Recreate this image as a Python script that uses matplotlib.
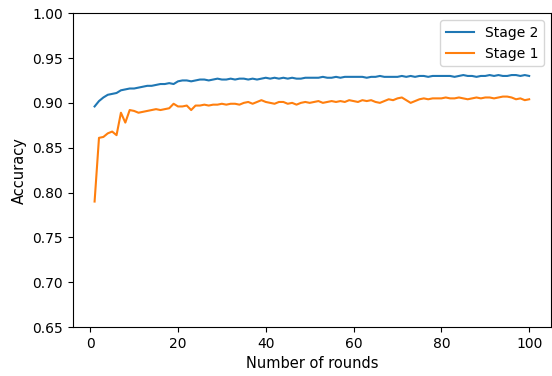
import numpy as np
import matplotlib
matplotlib.use('Agg')
import matplotlib.pyplot as plt

rounds = list(range(1, 101))

# accuracy per round, stage 2 (second pass) and stage 1
stage2 = [0.896, 0.902, 0.906, 0.909, 0.910, 0.911, 0.914, 0.915, 0.916, 0.916,
          0.917, 0.918, 0.919, 0.919, 0.920, 0.921, 0.921, 0.922, 0.921, 0.924,
          0.925, 0.925, 0.924, 0.925, 0.926, 0.926, 0.925, 0.926, 0.927, 0.926,
          0.926, 0.927, 0.926, 0.927, 0.927, 0.926, 0.927, 0.926, 0.927, 0.928,
          0.927, 0.928, 0.927, 0.928, 0.927, 0.928, 0.927, 0.927, 0.928, 0.928,
          0.928, 0.928, 0.929, 0.928, 0.928, 0.929, 0.928, 0.929, 0.929, 0.929,
          0.929, 0.929, 0.928, 0.929, 0.929, 0.930, 0.929, 0.929, 0.929, 0.929,
          0.930, 0.929, 0.930, 0.929, 0.930, 0.930, 0.929, 0.930, 0.930, 0.930,
          0.930, 0.930, 0.929, 0.930, 0.931, 0.930, 0.930, 0.929, 0.930, 0.930,
          0.931, 0.930, 0.931, 0.930, 0.930, 0.931, 0.931, 0.930, 0.931, 0.930]

stage1 = [0.790, 0.861, 0.862, 0.866, 0.868, 0.864, 0.889, 0.878, 0.892, 0.891,
          0.889, 0.890, 0.891, 0.892, 0.893, 0.892, 0.893, 0.894, 0.899, 0.896,
          0.896, 0.897, 0.892, 0.897, 0.897, 0.898, 0.897, 0.898, 0.898, 0.899,
          0.898, 0.899, 0.899, 0.898, 0.900, 0.901, 0.899, 0.901, 0.903, 0.901,
          0.900, 0.899, 0.901, 0.901, 0.899, 0.900, 0.898, 0.900, 0.901, 0.900,
          0.901, 0.902, 0.900, 0.901, 0.902, 0.901, 0.902, 0.901, 0.903, 0.902,
          0.901, 0.903, 0.902, 0.903, 0.901, 0.900, 0.902, 0.904, 0.903, 0.905,
          0.906, 0.903, 0.900, 0.902, 0.904, 0.905, 0.904, 0.905, 0.905, 0.905,
          0.906, 0.905, 0.905, 0.906, 0.905, 0.904, 0.905, 0.906, 0.905, 0.906,
          0.906, 0.905, 0.906, 0.907, 0.907, 0.906, 0.904, 0.905, 0.903, 0.904]

fig = plt.figure(figsize=(5.52, 3.76), dpi=100)
ax = fig.add_axes([0.132, 0.130, 0.866, 0.835])

ax.plot(rounds, stage2, color='tab:blue', linewidth=1.5, label='Stage 2')
ax.plot(rounds, stage1, color='tab:orange', linewidth=1.5, label='Stage 1')

ax.set_ylim(0.65, 1.00)
ax.set_yticks(np.arange(0.65, 1.001, 0.05))
ax.set_xticks([0, 20, 40, 60, 80, 100])
ax.tick_params(labelsize=10)
ax.set_xlabel('Number of rounds', fontsize=10.5)
ax.set_ylabel('Accuracy', fontsize=10.5)
ax.legend(loc='upper right', fontsize=10)

fig.savefig('out.png', dpi=100)
